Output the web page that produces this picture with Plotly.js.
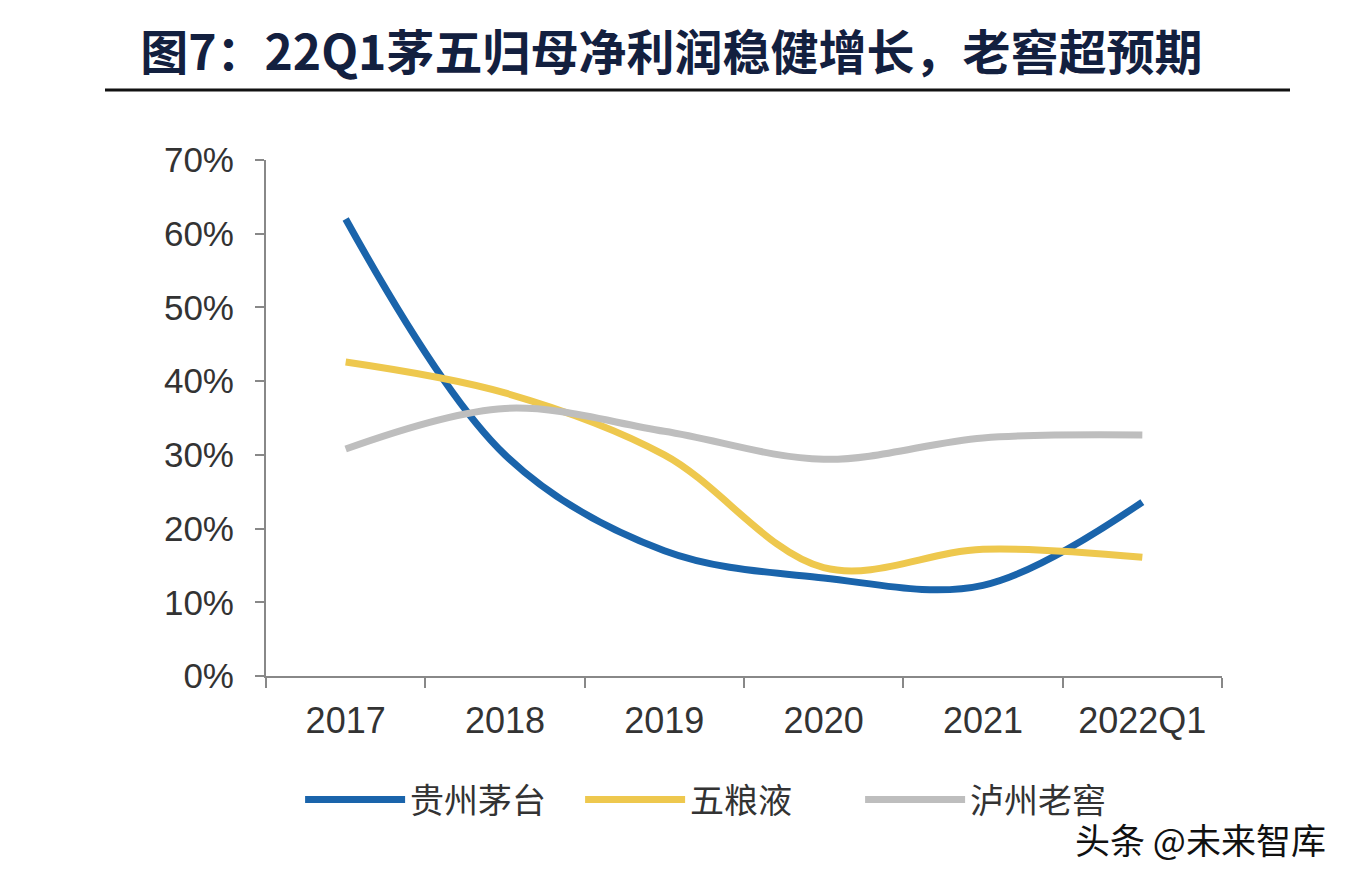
<!DOCTYPE html>
<html>
<head>
<meta charset="utf-8">
<script src="https://cdn.plot.ly/plotly-3.0.1.min.js"></script>
<style>
html,body{margin:0;padding:0;background:#fff;}
#chart{width:1348px;height:880px;}
</style>
</head>
<body>
<div id="chart"></div>
<script>
const categories = ['2017', '2018', '2019', '2020', '2021', '2022Q1'];
const seriesNames = ['贵州茅台', '五粮液', '泸州老窖'];
const maotai = [0.620, 0.300, 0.170, 0.133, 0.123, 0.236];
const wuliangye = [0.426, 0.384, 0.300, 0.147, 0.172, 0.161];
const laojiao = [0.308, 0.363, 0.332, 0.294, 0.323, 0.327];
const seriesColors = ['#1A64AB', '#EEC84E', '#BEBEBE'];
const titleText = '<b>图7：22Q1茅五归母净利润稳健增长，老窖超预期</b>';
const watermark = '头条 @未来智库';

const values = [maotai, wuliangye, laojiao];
const traces = values.map((v, i) => ({
  x: categories,
  y: v,
  name: seriesNames[i],
  type: 'scatter',
  mode: 'lines',
  line: {color: seriesColors[i], width: 7, shape: 'spline', smoothing: 1}
}));

const layout = {
  width: 1348, height: 880,
  margin: {l: 266, r: 126, t: 160, b: 204},
  paper_bgcolor: '#ffffff', plot_bgcolor: '#ffffff',
  font: {family: 'Liberation Sans, Arial, sans-serif', color: '#333333'},
  title: {
    text: titleText,
    font: {family: 'Noto Sans CJK SC, sans-serif', size: 48, color: '#13203f'},
    x: 0.498, xanchor: 'center', y: 0.94, yanchor: 'middle'
  },
  xaxis: {
    type: 'category',
    range: [-0.5, 5.5],
    showline: true, linecolor: '#888888', linewidth: 2,
    ticks: 'outside', ticklen: 10, tickwidth: 2, tickcolor: '#888888',
    tickson: 'boundaries',
    showgrid: false, zeroline: false,
    tickfont: {size: 36, color: '#333333'},
    ticklabelstandoff: 12
  },
  yaxis: {
    range: [0, 0.7], dtick: 0.1, tickformat: '.0%',
    showline: true, linecolor: '#888888', linewidth: 2,
    ticks: 'outside', ticklen: 9, tickwidth: 2, tickcolor: '#888888',
    showgrid: false, zeroline: false,
    tickfont: {size: 35, color: '#333333'},
    ticklabelstandoff: 14
  },
  legend: {
    orientation: 'h', x: 0.475, xanchor: 'center', y: -0.24, yanchor: 'middle',
    font: {family: 'Noto Sans CJK SC, sans-serif', size: 34, color: '#333333'},
    itemwidth: 100, tracegroupgap: 0, entrywidth: 165
  },
  shapes: [{
    type: 'line', xref: 'paper', yref: 'paper',
    x0: (105 - 266) / 956, x1: (1290 - 266) / 956,
    y0: (676 - 90) / 516, y1: (676 - 90) / 516,
    line: {color: '#111111', width: 3}
  }],
  annotations: [{
    text: watermark, xref: 'paper', yref: 'paper',
    x: (1200 - 266) / 956, y: (676 - 838) / 516, xanchor: 'center', yanchor: 'middle',
    showarrow: false,
    font: {family: 'Noto Sans CJK SC, sans-serif', size: 35, color: '#111111'}
  }]
};

Plotly.newPlot('chart', traces, layout, {displayModeBar: false, staticPlot: true});
</script>
</body>
</html>
